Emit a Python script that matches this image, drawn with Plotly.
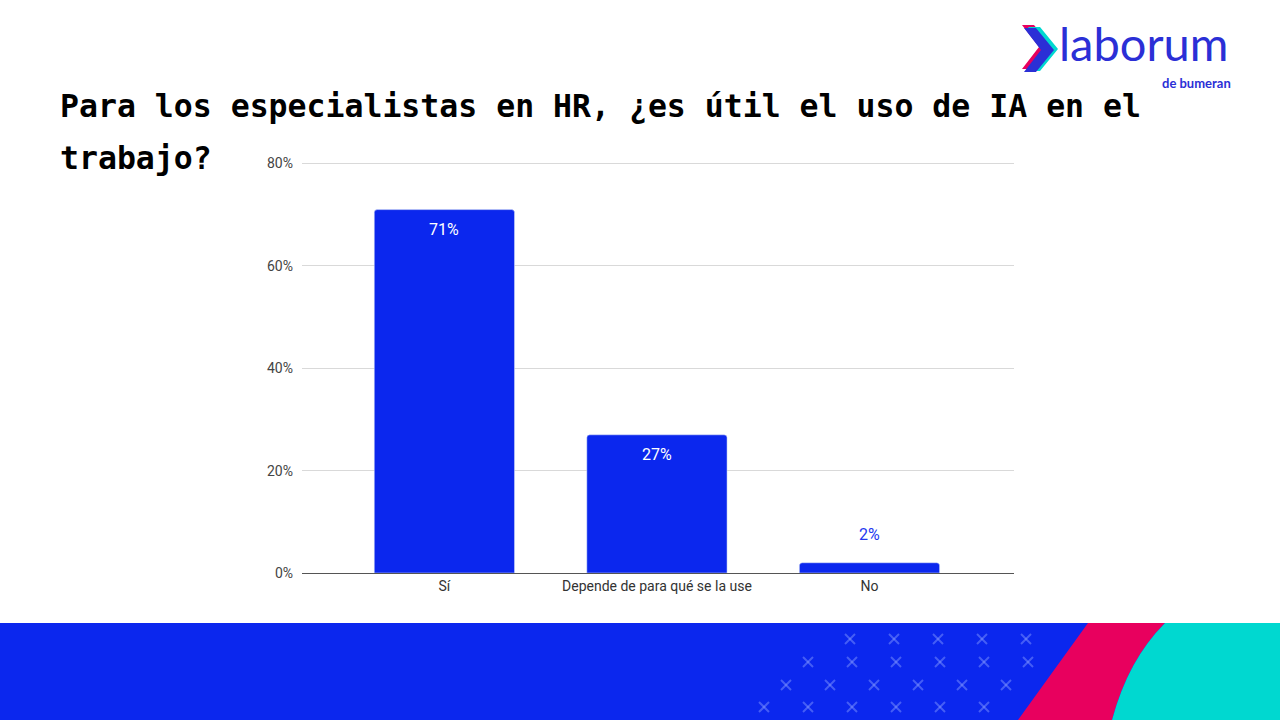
import plotly.graph_objects as go

# Survey answers and their shares (%)
categories = ["Sí", "Depende de para qué se la use", "No"]
values = [71, 27, 2]
labels = ["71%", "27%", "2%"]
y_ticks = [0, 20, 40, 60, 80]
y_tick_text = ["0%", "20%", "40%", "60%", "80%"]

W, H = 1280, 720
BLUE = "#0B27EE"


def px(x, y):
    # pixel position -> paper coordinates
    return x / W, 1 - y / H


def path(points, close=True):
    parts = []
    for i, (x, y) in enumerate(points):
        fx, fy = px(x, y)
        parts.append(("M" if i == 0 else "L") + f"{fx:.5f},{fy:.5f}")
    return " ".join(parts) + (" Z" if close else "")


fig = go.Figure()
fig.add_trace(go.Bar(
    x=categories, y=values, marker_color=BLUE, width=0.66,
    hoverinfo="skip", showlegend=False,
))

# value labels: inside the big bars, above the small one
for cat, val, lab in zip(categories, values, labels):
    inside = val > 10
    fig.add_annotation(
        x=cat, y=val, text=lab, showarrow=False, xref="x", yref="y",
        yshift=-20 if inside else 28,
        font=dict(family="Roboto", size=16, color="white" if inside else "#2438F0"),
    )

shapes = []
# bottom banner
x0, y0 = px(0, 623)
x1, y1 = px(W, H)
shapes.append(dict(type="rect", xref="paper", yref="paper", x0=x0, y0=y1, x1=x1, y1=y0,
                   fillcolor=BLUE, line_width=0, layer="below"))

# crosses on the banner
cross = []
for r, yy in enumerate([639, 662, 685, 707]):
    start = 850 - r * 22 - (0 if r < 1 else 20)
    for c in range(8):
        xx = start + c * 44
        edge = 1088 - (yy - 623) * 0.72
        if xx < 760 or xx > edge - 12:
            continue
        a = 5
        cross.append((xx - a, yy - a, xx + a, yy + a))
        cross.append((xx - a, yy + a, xx + a, yy - a))
for (ax, ay, bx, by) in cross:
    p0 = px(ax, ay)
    p1 = px(bx, by)
    shapes.append(dict(type="line", xref="paper", yref="paper", x0=p0[0], y0=p0[1],
                       x1=p1[0], y1=p1[1], line=dict(color="rgba(140,160,255,0.45)", width=2)))


def curve_path(pts):
    s = ""
    for cmd, coords in pts:
        s += cmd + " ".join(f"{px(x, y)[0]:.5f},{px(x, y)[1]:.5f}" for x, y in coords) + " "
    return s + "Z"


# pink stripe
shapes.append(dict(type="path", xref="paper", yref="paper", line_width=0, fillcolor="#E8005E",
                   path=curve_path([("M", [(1088, 623)]), ("L", [(1018, 720)]), ("L", [(1112, 720)]),
                                    ("Q", [(1128, 660), (1165, 623)])])))
# cyan shape
shapes.append(dict(type="path", xref="paper", yref="paper", line_width=0, fillcolor="#00D8D0",
                   path=curve_path([("M", [(1165, 623)]), ("Q", [(1128, 660), (1112, 720)]),
                                    ("L", [(1280, 720)]), ("L", [(1280, 623)])])))

# logo chevron
chev = [(0, 0), (12, 0), (30, 22), (12, 44), (0, 44), (17, 22)]
for dx, dy, col in [(-2, -2, "#E8005E"), (4, 0, "#00D8D0"), (0, 1, "#2B2FD6")]:
    shapes.append(dict(type="path", xref="paper", yref="paper", line_width=0, fillcolor=col,
                       path=path([(1024 + x + dx, 27 + y + dy) for x, y in chev])))

fig.update_layout(shapes=shapes)

# title
for i, line in enumerate(["Para los especialistas en HR, ¿es útil el uso de IA en el", "trabajo?"]):
    tx, ty = px(58, 86 + i * 52)
    fig.add_annotation(x=tx, y=ty, xref="paper", yref="paper", xanchor="left", yanchor="top",
                       text=f"<b>{line}</b>", showarrow=False,
                       font=dict(family="DejaVu Sans Mono", size=31.5, color="black"))

# logo text
lx, ly = px(1057, 73)
fig.add_annotation(x=lx, y=ly, xref="paper", yref="paper", xanchor="left", yanchor="bottom",
                   text="laborum", showarrow=False,
                   font=dict(family="Lato", size=47, color="#2B2FD6"))
bx, by = px(1233, 73)
fig.add_annotation(x=bx, y=by, xref="paper", yref="paper", xanchor="right", yanchor="top",
                   text="<b>de bumeran</b>", showarrow=False,
                   font=dict(family="Lato", size=13, color="#2B2FD6"))

fig.update_layout(
    width=W, height=H,
    margin=dict(l=0, r=0, t=0, b=0, pad=0),
    paper_bgcolor="white", plot_bgcolor="white",
    barcornerradius=3,
    xaxis=dict(
        domain=[302 / W, 1014 / W], range=[-0.67, 2.68],
        showline=True, linecolor="#555", linewidth=1.2, ticks="",
        tickfont=dict(family="Roboto", size=14, color="#333"),
        fixedrange=True, automargin=False,
    ),
    yaxis=dict(
        domain=[1 - 573 / H, 1 - 161 / H], range=[0, 80.5],
        tickvals=y_ticks, ticktext=y_tick_text,
        showgrid=True, gridcolor="#d9d9d9", gridwidth=1, zeroline=False,
        tickfont=dict(family="Roboto", size=14, color="#444"),
        ticklabelstandoff=8, fixedrange=True, automargin=False,
    ),
)

fig.write_html(
    "out.html",
    config={"displayModeBar": False},
    post_script="document.body.style.margin='0';document.body.style.overflow='hidden';",
)
